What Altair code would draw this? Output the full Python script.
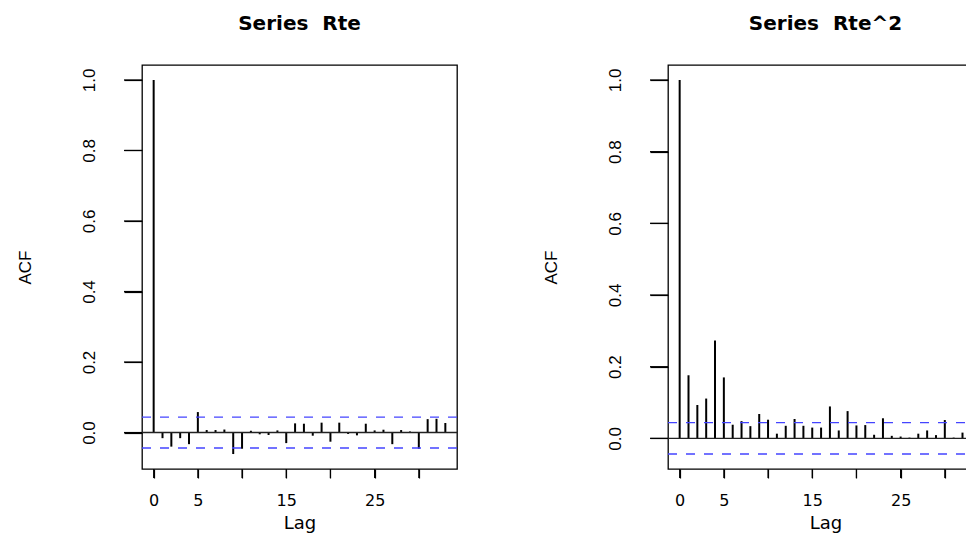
import altair as alt
import pandas as pd

# ---- data ----
LAGS = list(range(34))
ACF_RTE = [1.0, -0.016, -0.040, -0.016, -0.033, 0.058, 0.007, 0.007, 0.0085, -0.061,
           -0.046, 0.005, -0.005, -0.007, 0.006, -0.030, 0.026, 0.025, -0.009, 0.028,
           -0.026, 0.028, -0.004, -0.008, 0.025, 0.006, 0.008, -0.033, 0.007, 0.003,
           -0.046, 0.038, 0.039, 0.027]
ACF_RTE2 = [1.0, 0.176, 0.093, 0.111, 0.273, 0.170, 0.038, 0.048, 0.034, 0.068,
            0.052, 0.013, 0.035, 0.054, 0.035, 0.030, 0.030, 0.089, 0.022, 0.076,
            0.036, 0.037, 0.010, 0.056, 0.007, 0.005, 0.002, 0.013, 0.022, 0.009,
            0.051, 0.002, 0.016, -0.024]
CLIM = 0.0438
TITLES = ["Series\u00a0 Rte", "Series\u00a0 Rte^2"]
X_TICKS = [0, 5, 10, 15, 20, 25, 30]
X_LABELED = [0, 5, 15, 25]
Y_TICKS = [0.0, 0.2, 0.4, 0.6, 0.8, 1.0]

W, H = 315, 404
XTICK_LEN, YTICK_LEN = 9, 18
NARROW = "Liberation Sans Narrow, Liberation Sans, Arial, sans-serif"
WIDE = "DejaVu Sans, Liberation Sans, sans-serif"


def panel(acf, title):
    df = pd.DataFrame({"lag": LAGS, "acf": acf, "zero": [0.0] * len(LAGS)})
    lo = min(min(acf), -CLIM)
    hi = max(max(acf), CLIM)
    ext = 0.04 * (hi - lo)
    ydom = [lo - ext, hi + ext]
    xr = LAGS[-1] - LAGS[0]
    xdom = [LAGS[0] - 0.04 * xr, LAGS[-1] + 0.04 * xr]
    label_test = " || ".join(f"datum.value == {v}" for v in X_LABELED)

    xscale = alt.Scale(domain=xdom, nice=False, zero=False)
    yscale = alt.Scale(domain=ydom, nice=False, zero=False)
    x = alt.X("lag:Q", scale=xscale,
              axis=alt.Axis(values=X_TICKS, labelExpr=f"({label_test}) ? datum.label : ''",
                            ticks=True, tickSize=XTICK_LEN,
                            labelPadding=14, labelFont=WIDE, labelFontSize=16,
                            labelColor="black", title="Lag", titleFont=WIDE,
                            titleFontSize=18, titleFontWeight="normal",
                            titleColor="black", titlePadding=6,
                            domain=False, grid=False, labelFlush=False))
    y = alt.Y("acf:Q", scale=yscale,
              axis=alt.Axis(values=Y_TICKS, format=".1f", labelAngle=270,
                            labelAlign="center", labelBaseline="bottom",
                            ticks=True, tickSize=YTICK_LEN,
                            labelPadding=26, labelFont=NARROW, labelFontSize=17,
                            labelColor="black", title="ACF", titleFont=NARROW,
                            titleFontSize=17, titleFontWeight="normal",
                            titleColor="black", titlePadding=46,
                            domain=False, grid=False, labelFlush=False))

    bars = alt.Chart(df).mark_rule(color="black", strokeWidth=2).encode(
        x=x, y=y, y2="zero:Q")
    zero = alt.Chart(pd.DataFrame({"acf": [0.0]})).mark_rule(
        color="#222222", strokeWidth=1.4).encode(y=y)
    ci = alt.Chart(pd.DataFrame({"acf": [CLIM, -CLIM]})).mark_rule(
        color="#4444ff", strokeWidth=1.4, strokeDash=[9, 9]).encode(y=y)
    # tick marks drawn at the tick values (their length is styling)
    xt = alt.Chart(pd.DataFrame({"lag": X_TICKS})).mark_rule(
        color="black", strokeWidth=1.2).encode(
        x=x, y=alt.value(H), y2=alt.value(H + XTICK_LEN))
    yt = alt.Chart(pd.DataFrame({"acf": Y_TICKS})).mark_rule(
        color="black", strokeWidth=1.2).encode(
        y=y, x=alt.value(-YTICK_LEN), x2=alt.value(0))

    return alt.layer(bars, zero, ci, yt, xt).properties(
        width=W, height=H,
        title=alt.TitleParams(title, font=WIDE, fontSize=20, fontWeight="bold",
                              color="black", frame="group", anchor="middle",
                              offset=31))


chart = alt.hconcat(panel(ACF_RTE, TITLES[0]), panel(ACF_RTE2, TITLES[1]),
                    spacing=82).properties(
    autosize=alt.AutoSizeParams(type="none"),
    padding={"left": 134, "top": 57, "right": 824, "bottom": 467},
    background="white",
).configure_view(stroke="black", strokeWidth=1.3).configure_axis(
    ticks=True, tickColor="black", tickWidth=1.2, tickOpacity=1)

chart.save("out.html", embed_options={"renderer": "svg", "actions": False})
